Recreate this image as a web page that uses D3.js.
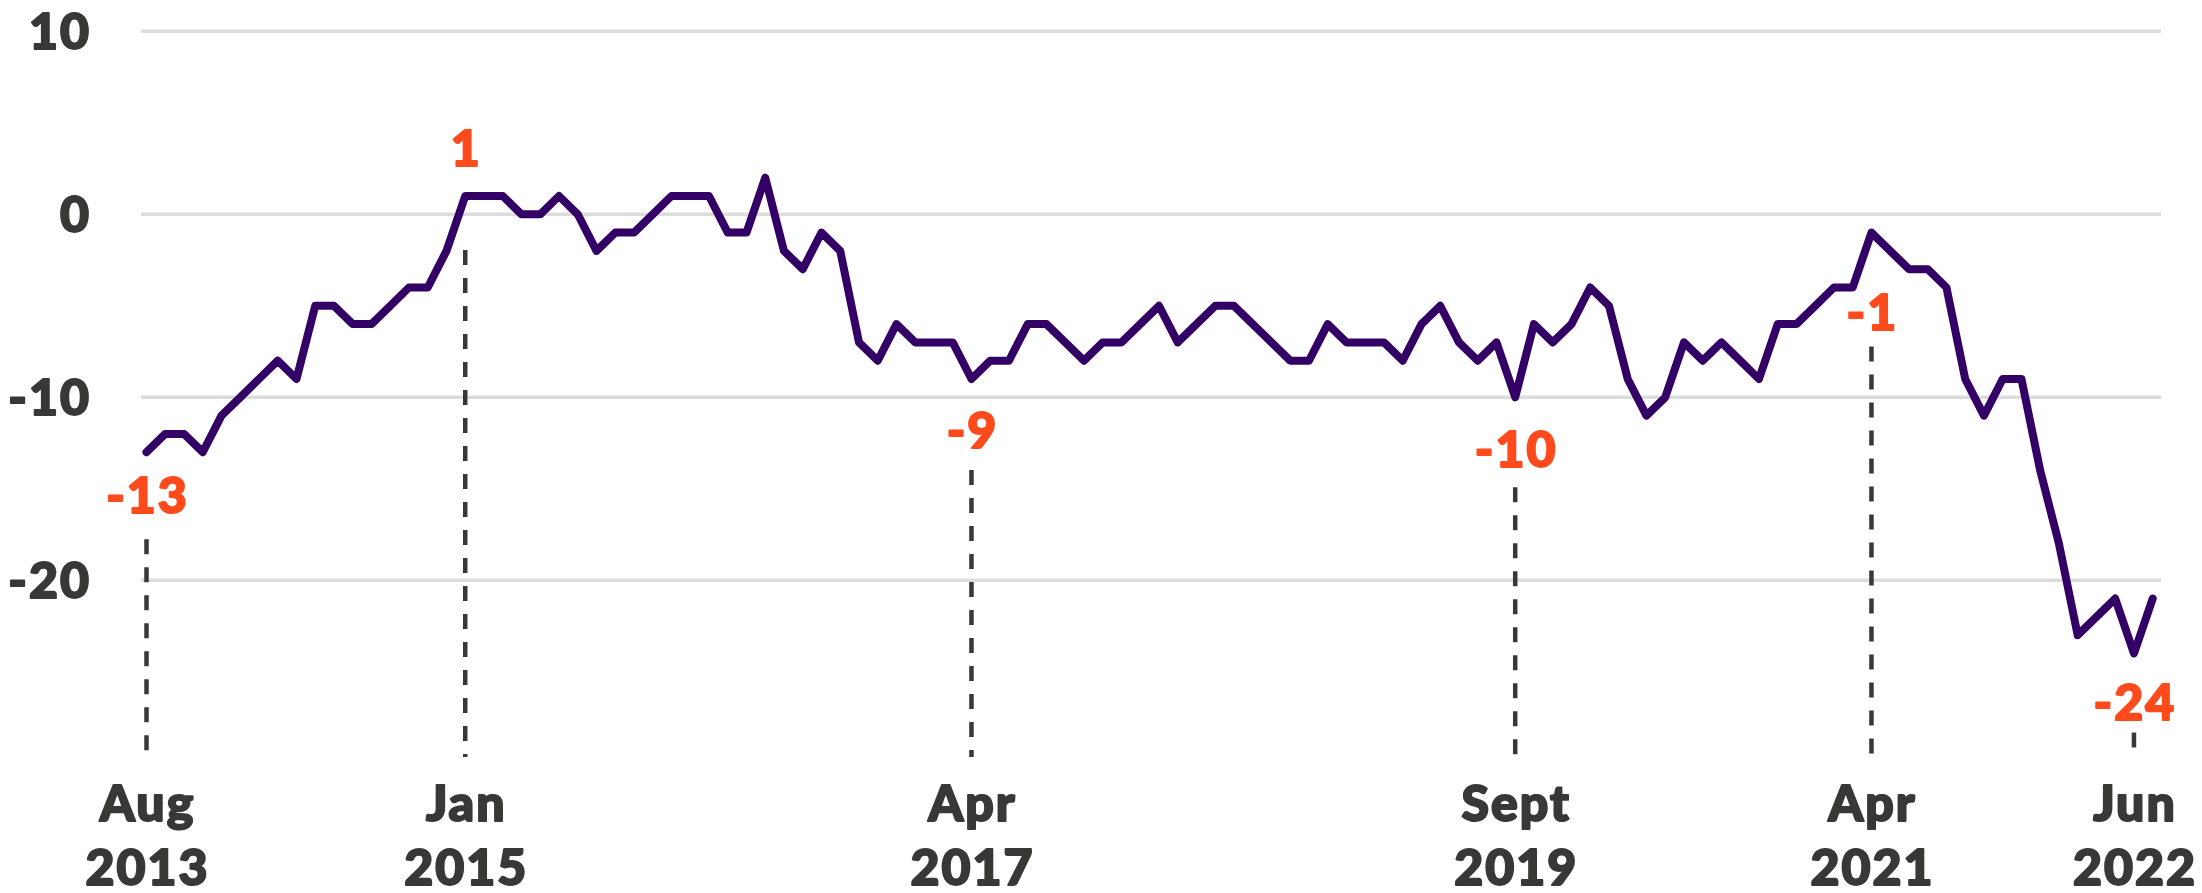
<!DOCTYPE html>
<html>
<head>
<meta charset="utf-8">
<script src="https://cdn.jsdelivr.net/npm/d3@7"></script>
<style>
  html, body { margin: 0; padding: 0; background: #ffffff; }
  svg { display: block; }
  text { font-family: "Lato", "Inter", sans-serif; font-weight: 900; }
</style>
</head>
<body>
<svg id="chart" width="2202" height="893"></svg>
<script>
// ---------------- DATA ----------------
const startMonth = "Aug 2013"; // first value; one value per month
const values = [
  -13, -12, -12, -13, -11, -10, -9, -8, -9, -5,
  -5, -6, -6, -5, -4, -4, -2, 1, 1, 1,
  0, 0, 1, 0, -2, -1, -1, 0, 1, 1,
  1, -1, -1, 2, -2, -3, -1, -2, -7, -8,
  -6, -7, -7, -7, -9, -8, -8, -6, -6, -7,
  -8, -7, -7, -6, -5, -7, -6, -5, -5, -6,
  -7, -8, -8, -6, -7, -7, -7, -8, -6, -5,
  -7, -8, -7, -10, -6, -7, -6, -4, -5, -9,
  -11, -10, -7, -8, -7, -8, -9, -6, -6, -5,
  -4, -4, -1, -2, -3, -3, -4, -9, -11, -9,
  -9, -14, -18, -23, -22, -21, -24, -21
];
const yTicks = [10, 0, -10, -20];
const yTickLabels = ["10", "0", "-10", "-20"];

// highlighted months (index into values), their value labels and axis labels
const markIndex = [0, 17, 44, 73, 92, 106];
const markLabels = ["-13", "1", "-9", "-10", "-1", "-24"];
const markMonth = ["Aug", "Jan", "Apr", "Sept", "Apr", "Jun"];
const markYear = ["2013", "2015", "2017", "2019", "2021", "2022"];

// ---------------- LAYOUT / STYLE ----------------
const lineColor = "#330066";
const accent = "#ff4a1c";
const textColor = "#383836";
const gridColor = "#dcdcdc";
const fontSize = 50;
const textStroke = 2;
const spacing = 2;

// per-annotation value-label offset from the point, and dashed line start offset
const labelDy = [61, -30, 69, 70, 97, 66];
const dashStartFromPoint = [87, 54, 91, 90, 114, 79];
const dashEnd = 757;

const svg = d3.select("#chart");

const x = d3.scaleLinear().domain([0, values.length - 1]).range([146.5, 2152.7]);
const y = d3.scaleLinear().domain([-20, 10]).range([580.3, 31.3]);

function styleText(sel, color) {
  sel.attr("fill", color)
    .attr("stroke", color)
    .attr("stroke-width", textStroke)
    .attr("stroke-linejoin", "round")
    .attr("letter-spacing", spacing)
    .attr("font-size", fontSize);
}

// gridlines
svg.append("g")
  .selectAll("line")
  .data(yTicks)
  .join("line")
  .attr("x1", 141)
  .attr("x2", 2161)
  .attr("y1", d => y(d))
  .attr("y2", d => y(d))
  .attr("stroke", gridColor)
  .attr("stroke-width", 3.5);

// y tick labels
svg.append("g")
  .selectAll("text")
  .data(yTicks)
  .join("text")
  .attr("x", 89 + spacing)
  .attr("y", d => y(d))
  .attr("dy", "0.36em")
  .attr("text-anchor", "end")
  .call(styleText, textColor)
  .text((d, i) => yTickLabels[i]);

// dashed markers
svg.append("g")
  .selectAll("line")
  .data(markIndex)
  .join("line")
  .attr("x1", d => x(d))
  .attr("x2", d => x(d))
  .attr("y1", (d, i) => y(values[d]) + dashStartFromPoint[i])
  .attr("y2", dashEnd)
  .attr("stroke", textColor)
  .attr("stroke-width", 4.5)
  .attr("stroke-dasharray", "15 13");

// line
const line = d3.line()
  .x((d, i) => x(i))
  .y(d => y(d));

svg.append("path")
  .datum(values)
  .attr("d", line)
  .attr("fill", "none")
  .attr("stroke", lineColor)
  .attr("stroke-width", 8)
  .attr("stroke-linejoin", "round")
  .attr("stroke-linecap", "round");

// value labels
svg.append("g")
  .selectAll("text")
  .data(markIndex)
  .join("text")
  .attr("x", d => x(d) + spacing / 2)
  .attr("y", (d, i) => y(values[d]) + labelDy[i])
  .attr("text-anchor", "middle")
  .call(styleText, accent)
  .text((d, i) => markLabels[i]);

// x axis labels
const xl = svg.append("g")
  .selectAll("text")
  .data(markIndex)
  .join("text")
  .attr("text-anchor", "middle")
  .call(styleText, textColor);
xl.append("tspan")
  .attr("x", d => x(d) + spacing / 2)
  .attr("y", 821)
  .text((d, i) => markMonth[i]);
xl.append("tspan")
  .attr("x", d => x(d) + spacing / 2)
  .attr("y", 885)
  .text((d, i) => markYear[i]);
</script>
</body>
</html>
